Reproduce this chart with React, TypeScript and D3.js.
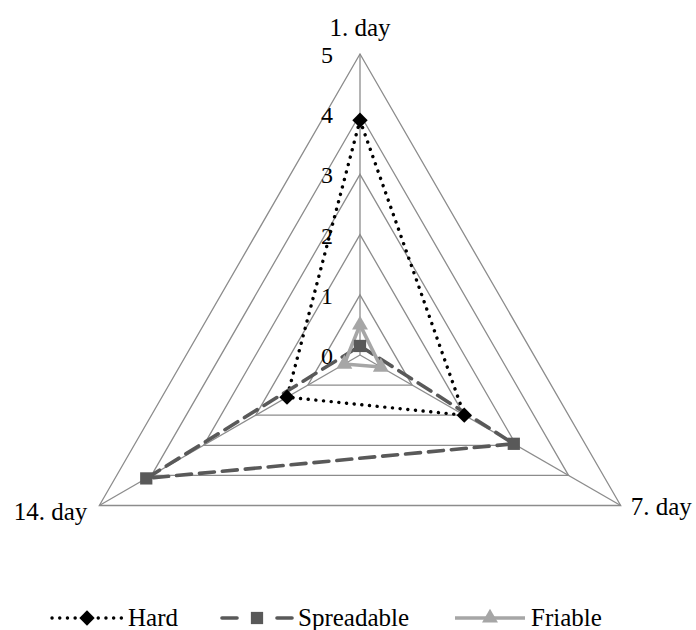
import React from "react";
import * as d3 from "d3";

const categories = ["1. day", "7. day", "14. day"];
const tickValues = [0, 1, 2, 3, 4, 5];
const seriesNames = ["Hard", "Spreadable", "Friable"];
const hardValues = [3.9, 2.0, 1.4];
const spreadableValues = [0.15, 2.95, 4.1];
const friableValues = [0.5, 0.4, 0.3];

const W = 696;
const H = 630;
const cx = 360;
const cy = 355;
const R = 301;
const FONT = "'Liberation Serif', 'Times New Roman', serif";

export default function App() {
  const r = d3.scaleLinear().domain([0, 5]).range([0, R]);
  const angle = d3
    .scalePoint<string>()
    .domain(categories)
    .range([0, (2 * Math.PI * (categories.length - 1)) / categories.length]);

  const pt = (cat: string, v: number): [number, number] => {
    const a = angle(cat)! - Math.PI / 2;
    return [cx + r(v) * Math.cos(a), cy + r(v) * Math.sin(a)];
  };

  const radial = d3
    .lineRadial<number>()
    .angle((_, i) => angle(categories[i])!)
    .radius((d) => r(d))
    .curve(d3.curveLinearClosed);

  const series = [
    { name: seriesNames[0], values: hardValues, color: "#000000", dash: "0.1 7.6", cap: "round", width: 3.4, marker: "diamond" },
    { name: seriesNames[1], values: spreadableValues, color: "#595959", dash: "15 8", cap: "round", width: 3.6, marker: "square" },
    { name: seriesNames[2], values: friableValues, color: "#a6a6a6", dash: "none", cap: "butt", width: 3.6, marker: "triangle" },
  ];

  const markerPath = (m: string) => {
    if (m === "diamond") return d3.symbol(d3.symbolDiamond2, 150)()!;
    if (m === "square") return d3.symbol(d3.symbolSquare, 150)()!;
    return d3.symbol(d3.symbolTriangle, 110)()!;
  };

  const gridLevels = tickValues.filter((v) => v > 0);

  const legendX = [52, 222, 455];
  const legendY = 618;

  return (
    <div style={{ position: "absolute", left: 0, top: 0 }}>
      <svg width={W} height={H} style={{ display: "block", fontFamily: FONT }}>
        <rect width={W} height={H} fill="#ffffff" />
        <g transform={`translate(${cx},${cy})`}>
          {gridLevels.map((lv) => (
            <path
              key={lv}
              d={radial(categories.map(() => lv))!}
              fill="none"
              stroke="#8c8c8c"
              strokeWidth={1.3}
            />
          ))}
        </g>
        {categories.map((c) => {
          const [x, y] = pt(c, 5);
          return <line key={c} x1={cx} y1={cy} x2={x} y2={y} stroke="#8c8c8c" strokeWidth={1.3} />;
        })}
        {tickValues.map((t) => (
          <text key={t} x={cx - 27} y={cy - r(t) + 9} fontSize={24} textAnchor="end" fill="#000">
            {t}
          </text>
        ))}
        <text x={cx} y={36} fontSize={25} textAnchor="middle">{categories[0]}</text>
        <text x={pt(categories[1], 5)[0] + 10} y={515} fontSize={25} textAnchor="start">{categories[1]}</text>
        <text x={pt(categories[2], 5)[0] - 12} y={520} fontSize={25} textAnchor="end">{categories[2]}</text>
        {series.map((s) => (
          <path
            key={s.name}
            transform={`translate(${cx},${cy})`}
            d={radial(s.values)!}
            fill="none"
            stroke={s.color}
            strokeWidth={s.width}
            strokeDasharray={s.dash}
            strokeLinecap={s.cap as any}
          />
        ))}
        {series.map((s) =>
          s.values.map((v, i) => {
            const [x, y] = pt(categories[i], v);
            return (
              <path key={s.name + i} transform={`translate(${x},${y})`} d={markerPath(s.marker)} fill={s.color} />
            );
          })
        )}
        {series.map((s, i) => {
          const x0 = legendX[i];
          return (
            <g key={s.name}>
              {s.marker === "square" ? (
                <>
                  <line x1={x0} x2={x0 + 15} y1={legendY} y2={legendY} stroke={s.color} strokeWidth={s.width} strokeLinecap="round" />
                  <line x1={x0 + 55} x2={x0 + 70} y1={legendY} y2={legendY} stroke={s.color} strokeWidth={s.width} strokeLinecap="round" />
                </>
              ) : (
                <line
                  x1={x0}
                  x2={x0 + 70}
                  y1={legendY}
                  y2={legendY}
                  stroke={s.color}
                  strokeWidth={s.width}
                  strokeDasharray={s.dash}
                  strokeLinecap={s.cap as any}
                />
              )}
              <path transform={`translate(${x0 + 35},${legendY})`} d={markerPath(s.marker)} fill={s.color} />
              <text x={x0 + 76} y={legendY + 8} fontSize={25}>{s.name}</text>
            </g>
          );
        })}
      </svg>
    </div>
  );
}
